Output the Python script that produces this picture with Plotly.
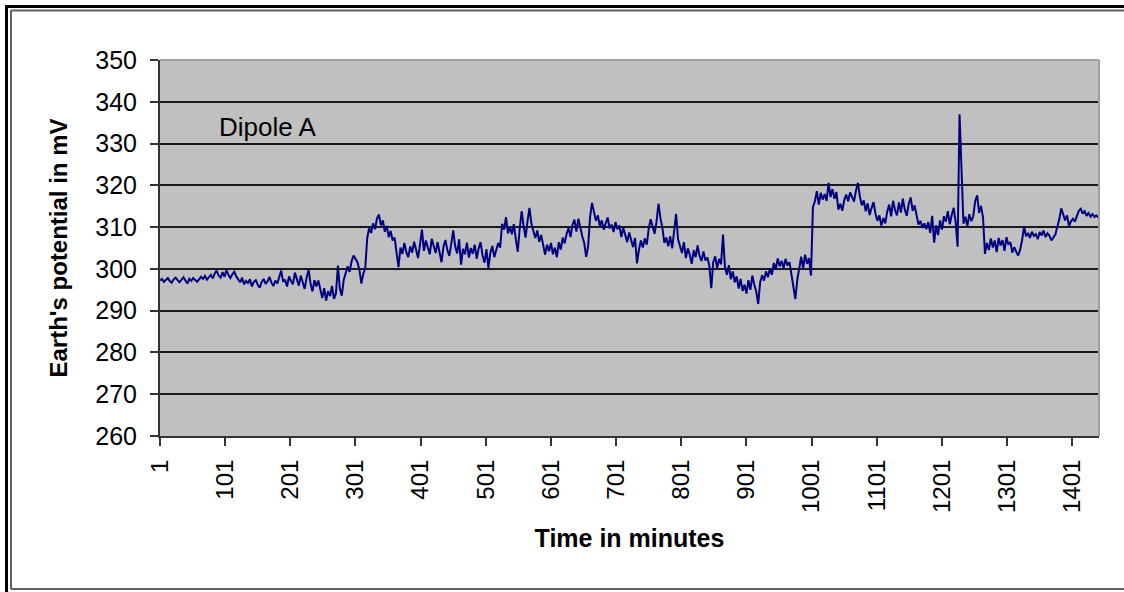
import plotly.graph_objects as go

minutes = list(range(1, 1442, 3))

potential_mv = [
    # 1 - 58
    297.2, 297.6, 296.9, 297.4, 297.8, 297.1, 296.7, 297.5, 297.9, 297.3,
    296.8, 297.4, 298.0, 297.2, 296.5, 297.6, 297.1, 297.8, 297.3, 296.9,
    # 61 - 118
    297.5, 298.1, 297.6, 298.3, 297.4, 298.0, 298.6, 297.7, 298.9, 299.6,
    298.4, 297.9, 299.2, 298.1, 299.8, 298.5, 297.8, 298.7, 299.3, 298.2,
    # 121 - 178
    297.4, 296.8, 297.9, 296.3, 297.1, 296.6, 297.5, 295.8, 296.9, 297.3,
    296.2, 295.5, 296.8, 297.6, 296.4, 297.0, 298.1, 296.7, 295.9, 297.2,
    # 181 - 238
    296.5, 297.8, 299.6, 296.9, 297.4, 295.8, 298.2, 297.1, 296.3, 299.1,
    297.6, 296.0, 298.4, 296.8, 295.2, 297.9, 299.8, 296.5, 294.6, 297.3,
    # 241 - 298
    295.8, 297.2, 294.6, 293.0, 295.4, 292.4, 294.7, 293.5, 295.9, 292.8,
    294.1, 300.8, 295.3, 293.6, 297.4, 298.9, 300.6, 299.3, 301.8, 303.2,
    # 301 - 358
    302.4, 301.6, 299.8, 296.5, 298.8, 300.2, 307.4, 309.8, 308.6, 310.9,
    309.5, 312.1, 313.0, 310.4, 311.6, 308.9, 310.3, 307.6, 309.1, 306.8,
    # 361 - 418
    307.5, 304.2, 300.4, 305.1, 303.6, 306.2, 304.0, 302.8, 305.4, 303.9,
    306.5, 304.6, 302.6, 305.8, 309.4, 304.3, 306.8, 305.1, 303.5, 307.2,
    # 421 - 478
    305.6, 303.8, 306.4, 304.2, 301.6, 305.3, 306.9, 304.5, 303.1, 306.0,
    309.2, 305.4, 303.7, 307.1, 301.0, 304.8, 303.5, 306.3, 302.7, 305.0,
    # 481 - 538
    303.6, 305.8, 302.4, 304.9, 306.4, 303.2, 301.5, 304.7, 300.2, 303.9,
    305.5, 302.8, 304.3, 306.2, 305.1, 310.8, 309.4, 312.4, 308.5, 310.1,
    # 541 - 598
    308.3, 310.7, 307.2, 304.1, 309.6, 313.8, 310.2, 307.5, 311.4, 314.6,
    310.8, 308.9, 307.4, 309.2, 306.5, 308.1, 306.0, 303.4, 305.8, 304.2,
    # 601 - 658
    306.2, 303.5, 305.1, 302.8, 306.4, 304.6, 307.5, 306.1, 308.4, 309.8,
    307.6, 310.5, 311.8, 308.9, 312.0, 309.6, 307.8, 306.2, 302.9, 305.4,
    # 661 - 718
    312.4, 315.8, 313.6, 311.5, 312.8, 310.2, 311.6, 309.4, 310.9, 312.3,
    309.7, 310.6, 308.8, 311.2, 309.5, 310.4, 307.6, 309.8, 308.1, 306.4,
    # 721 - 778
    308.7, 306.9, 305.2, 307.4, 301.3, 304.6, 306.8, 305.1, 307.3, 305.8,
    309.6, 311.9, 310.2, 308.4, 311.3, 315.6, 312.1, 309.8, 306.2, 307.5,
    # 781 - 838
    305.4, 307.8, 304.9, 309.6, 313.2, 307.1, 305.3, 303.8, 306.4, 302.6,
    304.9, 303.4, 301.2, 304.5, 302.8, 305.6, 303.1, 301.9, 304.2, 302.0,
    # 841 - 898
    302.7, 300.8, 295.4, 301.6, 303.0, 300.2, 302.4, 301.1, 308.2, 300.4,
    298.6, 300.9, 297.5, 299.4, 296.8, 298.2, 295.3, 297.6, 294.7, 296.2,
    # 901 - 958
    294.1, 297.3, 295.0, 298.4, 296.2, 294.6, 291.6, 296.8, 298.5, 297.2,
    299.4, 298.0, 300.1, 298.6, 301.4, 299.9, 302.5, 300.6, 301.9, 300.2,
    # 961 - 1018
    302.4, 300.8, 301.6, 298.9, 296.1, 292.8, 297.4, 300.6, 302.9, 300.1,
    303.4, 301.2, 302.6, 298.4, 314.8, 316.2, 318.6, 315.4, 318.2, 316.6,
    # 1021 - 1078
    317.9, 316.3, 320.6, 317.2, 319.1, 316.8, 318.4, 314.2, 315.6, 313.9,
    316.4, 317.8, 316.2, 318.3, 317.0, 316.1, 318.7, 320.6, 317.4, 315.2,
    # 1081 - 1138
    316.4, 313.8, 315.7, 312.9, 314.6, 316.0, 313.2, 311.5, 312.8, 310.4,
    312.2, 310.9, 313.7, 315.4, 312.6, 316.3, 314.1, 312.8, 315.9, 313.5,
    # 1141 - 1198
    316.8, 314.2, 312.7, 315.6, 317.1, 313.9, 315.2, 312.4, 310.6, 311.5,
    309.8, 310.9, 309.5, 311.2, 308.6, 312.7, 306.3, 310.4, 308.1, 311.6,
    # 1201 - 1258
    309.4, 312.6, 311.3, 313.8, 310.7, 312.9, 314.6, 311.2, 305.3, 337.0,
    324.2, 310.8, 312.5, 310.2, 313.1, 311.4, 312.6, 316.2, 317.6, 313.4,
    # 1261 - 1318
    315.1, 312.3, 303.6, 306.2, 304.5, 307.3, 305.1, 306.8, 304.0, 307.4,
    305.6, 306.9, 304.3, 307.6, 305.8, 306.4, 303.9, 305.2, 304.1, 303.2,
    # 1321 - 1378
    304.6, 306.9, 310.1, 307.8, 308.6, 307.4, 308.9, 307.9, 308.3, 307.1,
    308.8, 308.0, 309.2, 307.6, 308.5, 307.9, 306.8, 307.4, 308.2, 310.1,
    # 1381 - 1438
    311.8, 314.5, 313.0, 311.6, 312.8, 310.2, 311.4, 312.0, 311.3, 312.6,
    313.9, 314.4, 313.2, 313.8, 312.7, 313.4, 312.5, 313.1, 312.4, 312.8,
    # 1441
    312.3,
]

x_tick_values = [1, 101, 201, 301, 401, 501, 601, 701, 801, 901, 1001, 1101, 1201, 1301, 1401]
x_tick_labels = [str(v) for v in x_tick_values]
y_tick_values = [260, 270, 280, 290, 300, 310, 320, 330, 340, 350]

series_name = "Dipole A"
x_title = "Time in minutes"
y_title = "Earth's potential in mV"

# ---------------- layout geometry (pixels) ----------------
W, H = 1124, 592
PL, PR, PT, PB = 160, 1099, 60, 436   # plot area edges


def px_x(px):
    return (px - PL) / (PR - PL)


def px_y(py):
    return (PB - py) / (PB - PT)


FONT = "Liberation Sans, Arial, sans-serif"

fig = go.Figure()
fig.add_trace(go.Scatter(
    x=minutes, y=potential_mv, mode="lines", name=series_name,
    line=dict(color="#000080", width=2), showlegend=False,
))

fig.update_layout(
    width=W, height=H, autosize=False,
    margin=dict(l=PL, r=W - PR, t=PT, b=H - PB, pad=0),
    paper_bgcolor="white", plot_bgcolor="#c0c0c0",
    font=dict(family=FONT, color="black"),
    showlegend=False,
)

fig.update_xaxes(
    range=[1, 1442], tickmode="array", tickvals=x_tick_values, ticktext=x_tick_labels,
    tickangle=-90, ticks="outside", ticklen=8, tickwidth=2, tickcolor="#333333",
    showgrid=False, zeroline=False, showline=True, linecolor="#333333", linewidth=2,
    tickfont=dict(family=FONT, size=24, color="black"), ticklabelstandoff=4,
    title=dict(text=x_title, font=dict(family=FONT, size=25, color="black", weight="bold"), standoff=18),
)
fig.update_yaxes(
    range=[260, 350], tickmode="array", tickvals=y_tick_values,
    ticks="outside", ticklen=8, tickwidth=2, tickcolor="#333333",
    showgrid=True, gridcolor="#1a1a1a", gridwidth=2,
    zeroline=False, showline=True, linecolor="#333333", linewidth=2,
    tickfont=dict(family=FONT, size=25, color="black"), ticklabelstandoff=8,
    title=dict(text=y_title, font=dict(family=FONT, size=24, color="black", weight="bold"), standoff=21),
)

fig.add_annotation(
    x=88, y=334, xref="x", yref="y", text=series_name, showarrow=False,
    xanchor="left", yanchor="middle",
    font=dict(family=FONT, size=26, color="black"),
)

shapes = [
    # light plot-area border on top and right
    dict(type="line", xref="paper", yref="paper", x0=0, x1=1, y0=1, y1=1,
         line=dict(color="#a0a0a0", width=2), layer="above"),
    dict(type="line", xref="paper", yref="paper", x0=1, x1=1, y0=0, y1=1,
         line=dict(color="#a0a0a0", width=2), layer="above"),
    # outer frame: thick black top/left
    dict(type="line", xref="paper", yref="paper", x0=px_x(5), x1=px_x(1130), y0=px_y(6.5), y1=px_y(6.5),
         line=dict(color="black", width=3)),
    dict(type="line", xref="paper", yref="paper", x0=px_x(6.5), x1=px_x(6.5), y0=px_y(5), y1=px_y(600),
         line=dict(color="black", width=3)),
    # inner gray frame
    dict(type="line", xref="paper", yref="paper", x0=px_x(10.5), x1=px_x(1130), y0=px_y(10.5), y1=px_y(10.5),
         line=dict(color="#606060", width=2)),
    dict(type="line", xref="paper", yref="paper", x0=px_x(11), x1=px_x(11), y0=px_y(10.5), y1=px_y(589),
         line=dict(color="#606060", width=2)),
    dict(type="line", xref="paper", yref="paper", x0=px_x(11), x1=px_x(1130), y0=px_y(589), y1=px_y(589),
         line=dict(color="#606060", width=2)),
]
fig.update_layout(shapes=shapes)

fig.write_html("out.html")
